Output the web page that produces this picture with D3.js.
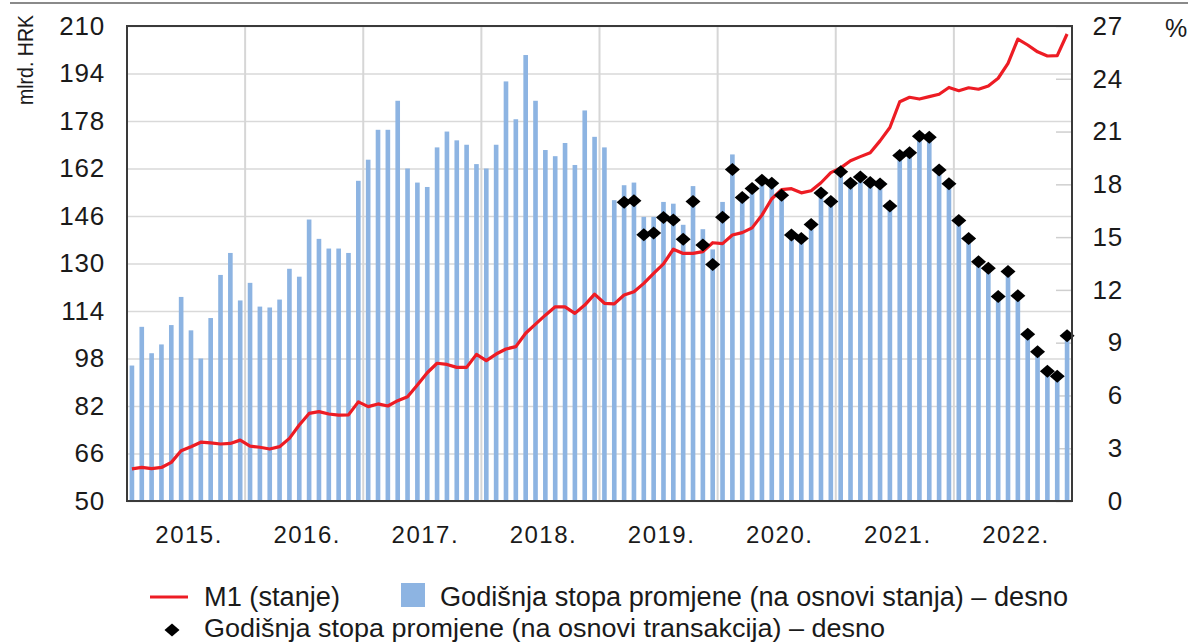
<!DOCTYPE html>
<html>
<head>
<meta charset="utf-8">
<script src="https://cdn.jsdelivr.net/npm/d3@7"></script>
<style>
  body { margin: 0; background: #fff; }
  svg { display: block; }
  text { font-family: "Liberation Sans", Arial, sans-serif; fill: #1a1a1a; }
  .narrow { font-family: "Liberation Sans Narrow", "Liberation Sans", Arial, sans-serif; }
</style>
</head>
<body>
<script>
// years on the x axis, each has 12 monthly observations
var years = ['2015.', '2016.', '2017.', '2018.', '2019.', '2020.', '2021.', '2022.'];
var months = [];
years.forEach(function(y){ for (var m = 1; m <= 12; m++) months.push(y + m); });

// M1 (stanje), mlrd. HRK - left axis
var m1 = [60.8, 61.3, 60.9, 61.3, 63.0, 66.9, 68.3, 69.8, 69.6, 69.2, 69.4, 70.5,
          68.5, 68.1, 67.5, 68.3, 71.1, 75.6, 79.5, 80.1, 79.3, 78.9, 79.0, 83.4,
          81.8, 82.7, 82.0, 83.8, 85.1, 89.1, 93.2, 96.4, 96.0, 95.0, 95.0, 99.4,
          97.3, 99.5, 101.2, 102.0, 106.5, 109.6, 112.6, 115.4, 115.4, 113.2, 116.0, 119.7,
          116.6, 116.4, 119.4, 120.5, 123.3, 126.7, 129.9, 134.8, 133.4, 133.4, 134.0, 137.0,
          136.7, 139.6, 140.4, 142.0, 146.3, 151.8, 154.9, 155.2, 153.8, 154.5, 157.2, 160.6,
          162.2, 164.6, 166.0, 167.3, 171.3, 175.8, 184.5, 186.0, 185.4, 186.2, 187.0, 189.3,
          188.2, 189.2, 188.7, 189.8, 192.4, 197.4, 205.6, 203.6, 201.3, 199.9, 200.0, 207.3];

// Godišnja stopa promjene (na osnovi stanja), % - right axis
var rateStock = [7.7, 9.9, 8.4, 8.9, 10.0, 11.6, 9.7, 8.1, 10.4, 12.85, 14.1, 11.4,
                 12.4, 11.05, 11.0, 11.45, 13.2, 12.75, 16.0, 14.9, 14.35, 14.35, 14.1, 18.2,
                 19.4, 21.1, 21.1, 22.75, 18.9, 18.1, 17.85, 20.1, 21.0, 20.5, 20.25, 19.15,
                 18.9, 20.25, 23.85, 21.7, 25.35, 22.75, 19.95, 19.6, 20.35, 19.1, 22.2, 20.7,
                 20.1, 17.1, 17.95, 18.1, 16.15, 16.15, 17.0, 16.9, 15.7, 17.9, 15.45, 14.3,
                 17.0, 19.7, 17.45, 17.95, 18.4, 18.25, 17.7, 15.3, 15.1, 15.9, 17.7, 17.2,
                 18.9, 18.25, 18.6, 18.3, 18.2, 16.95, 19.85, 20.0, 20.95, 20.85, 19.0, 18.25,
                 16.15, 15.1, 13.8, 13.4, 11.8, 13.25, 11.85, 9.65, 8.65, 7.55, 7.25, 9.55];

// Godišnja stopa promjene (na osnovi transakcija), % - right axis (from 2019/3)
var rateTrans = [null, null, null, null, null, null, null, null, null, null, null, null,
                 null, null, null, null, null, null, null, null, null, null, null, null,
                 null, null, null, null, null, null, null, null, null, null, null, null,
                 null, null, null, null, null, null, null, null, null, null, null, null,
                 null, null, 16.98, 17.06, 15.14, 15.23, 16.11, 15.97, 14.88, 17.02, 14.55, 13.45,
                 16.13, 18.84, 17.25, 17.76, 18.23, 18.06, 17.38, 15.12, 14.92, 15.71, 17.51, 17.02,
                 18.72, 18.06, 18.42, 18.10, 18.02, 16.77, 19.64, 19.80, 20.73, 20.67, 18.82, 18.04,
                 15.95, 14.92, 13.6, 13.23, 11.62, 13.04, 11.67, 9.48, 8.49, 7.37, 7.09, 9.39];

var leftTicks = [50, 66, 82, 98, 114, 130, 146, 162, 178, 194, 210];
var rightTicks = [0, 3, 6, 9, 12, 15, 18, 21, 24, 27];

var W = 1192, H = 643;
var plotL = 127, plotR = 1072, plotT = 26, plotB = 501;

var svg = d3.select('body').append('svg').attr('width', W).attr('height', H);

var x = d3.scaleBand().domain(months).range([plotL, plotR]).paddingInner(0.53).paddingOuter(0.265);
var xl = d3.scaleLinear().domain([0, months.length]).range([plotL, plotR]);
var yL = d3.scaleLinear().domain([50, 210]).range([plotB, plotT]);
var yR = d3.scaleLinear().domain([0, 27]).range([plotB, plotT]);

// rule at the very top
svg.append('line').attr('x1', 10).attr('x2', 1188).attr('y1', 3).attr('y2', 3)
    .attr('stroke', '#8a8a8a').attr('stroke-width', 2);

// horizontal grid
svg.append('g').attr('transform', 'translate(' + plotL + ',0)')
    .call(d3.axisLeft(yL).tickValues(leftTicks).tickSize(-(plotR - plotL)).tickFormat(''))
    .call(function(g){
        g.select('.domain').remove();
        g.selectAll('line').attr('stroke', '#d9d9d9').attr('stroke-width', 1.5);
    });

// vertical grid at year boundaries
svg.append('g').selectAll('line')
    .data(years.slice(1))
    .enter().append('line')
        .attr('x1', function(d, i){ return xl((i + 1) * 12); })
        .attr('x2', function(d, i){ return xl((i + 1) * 12); })
        .attr('y1', plotT).attr('y2', plotB)
        .attr('stroke', '#d6d6d6').attr('stroke-width', 2);

// right axis inner ticks
svg.append('g').attr('transform', 'translate(' + plotR + ',0)')
    .call(d3.axisLeft(yR).tickValues(rightTicks).tickSize(16).tickFormat(''))
    .call(function(g){
        g.select('.domain').remove();
        g.selectAll('line').attr('stroke', '#cfcfcf').attr('stroke-width', 1.5);
    });

// bars
svg.append('g').selectAll('rect')
    .data(rateStock)
    .enter().append('rect')
        .attr('x', function(d, i){ return x(months[i]); })
        .attr('width', x.bandwidth())
        .attr('y', function(d){ return yR(d); })
        .attr('height', function(d){ return yR(0) - yR(d); })
        .attr('fill', '#8db4e2');

// M1 line
var line = d3.line()
    .x(function(d, i){ return x(months[i]) + x.bandwidth() / 2; })
    .y(function(d){ return yL(d); });

svg.append('path')
    .attr('d', line(m1))
    .attr('fill', 'none')
    .attr('stroke', '#ed1c24')
    .attr('stroke-width', 3.2)
    .attr('stroke-linejoin', 'round');

// diamonds
var diamond = 'M0,-6.5L7.5,0L0,6.5L-7.5,0Z';
svg.append('g').selectAll('path')
    .data(rateTrans.map(function(d, i){ return {v: d, i: i}; }).filter(function(d){ return d.v !== null; }))
    .enter().append('path')
        .attr('d', diamond)
        .attr('transform', function(d){
            return 'translate(' + (x(months[d.i]) + x.bandwidth() / 2) + ',' + yR(d.v) + ')';
        })
        .attr('fill', '#000');

// frame
svg.append('rect').attr('x', plotL).attr('y', plotT)
    .attr('width', plotR - plotL).attr('height', plotB - plotT)
    .attr('fill', 'none').attr('stroke', '#3a3a3a').attr('stroke-width', 2);

// left axis labels
svg.append('g').attr('transform', 'translate(' + plotL + ',0)')
    .call(d3.axisLeft(yL).tickValues(leftTicks).tickSize(0).tickPadding(22))
    .call(function(g){
        g.select('.domain').remove();
        g.selectAll('text').attr('font-size', 26).attr('letter-spacing', 0.8)
            .style('font-family', '"Liberation Sans", Arial, sans-serif').attr('fill', '#1a1a1a');
    });

// right axis labels
svg.append('g').attr('transform', 'translate(1123,0)')
    .call(d3.axisLeft(yR).tickValues(rightTicks).tickSize(0).tickPadding(0))
    .call(function(g){
        g.select('.domain').remove();
        g.selectAll('text').attr('font-size', 26).attr('letter-spacing', 0.8)
            .style('font-family', '"Liberation Sans", Arial, sans-serif').attr('fill', '#1a1a1a');
    });

// year labels
svg.append('g').selectAll('text')
    .data(years)
    .enter().append('text')
        .attr('x', function(d, i){ return xl(i * 12 + 6) + 3; })
        .attr('y', 543)
        .attr('text-anchor', 'middle')
        .attr('font-size', 24)
        .attr('letter-spacing', 1.5)
        .text(function(d){ return d; });

// axis titles
svg.append('text').attr('class', 'narrow')
    .attr('transform', 'translate(33,60) rotate(-90)')
    .attr('text-anchor', 'middle')
    .attr('font-size', 22)
    .attr('textLength', 90).attr('lengthAdjust', 'spacingAndGlyphs')
    .text('mlrd. HRK');

svg.append('text')
    .attr('x', 1165).attr('y', 37)
    .attr('font-size', 25)
    .text('%');

// legend
var lg = svg.append('g');
lg.append('line').attr('x1', 150).attr('x2', 188).attr('y1', 597).attr('y2', 597)
    .attr('stroke', '#ed1c24').attr('stroke-width', 3);
lg.append('text').attr('class', 'narrow').attr('x', 204).attr('y', 606)
    .attr('font-size', 27).attr('textLength', 136).attr('lengthAdjust', 'spacingAndGlyphs')
    .text('M1 (stanje)');
lg.append('rect').attr('x', 401).attr('y', 583).attr('width', 24).attr('height', 24)
    .attr('fill', '#8db4e2');
lg.append('text').attr('class', 'narrow').attr('x', 440).attr('y', 606)
    .attr('font-size', 27).attr('textLength', 628).attr('lengthAdjust', 'spacingAndGlyphs')
    .text('Godišnja stopa promjene (na osnovi stanja) – desno');
lg.append('path').attr('d', diamond).attr('transform', 'translate(172,630)').attr('fill', '#000');
lg.append('text').attr('class', 'narrow').attr('x', 204).attr('y', 637)
    .attr('font-size', 26).attr('textLength', 681).attr('lengthAdjust', 'spacingAndGlyphs')
    .text('Godišnja stopa promjene (na osnovi transakcija) – desno');
</script>
</body>
</html>
